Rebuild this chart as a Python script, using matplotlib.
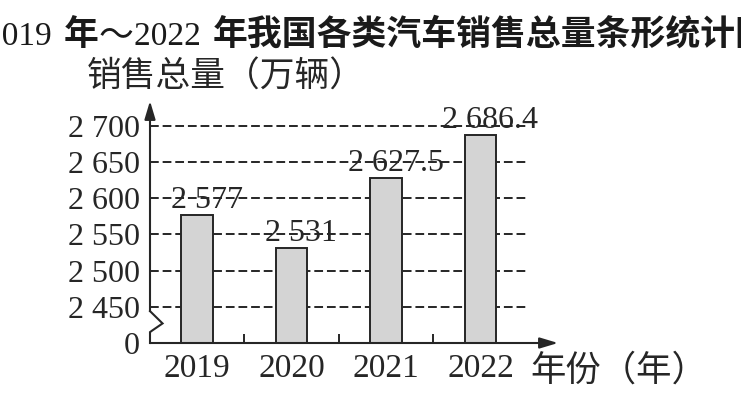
import numpy as np
import matplotlib
matplotlib.use('Agg')
import matplotlib.pyplot as plt

# ---- data ----
years = ['2019', '2020', '2021', '2022']
sales = [2577, 2531, 2627.5, 2686.4]
sales_labels = ['2 577', '2 531', '2 627.5', '2 686.4']
axis_base = 2400
yticks = [2400, 2450, 2500, 2550, 2600, 2650, 2700]
ytick_labels = ['0', '2 450', '2 500', '2 550', '2 600', '2 650', '2 700']
title_parts = ['2019 ', '年', '～', '2022 ', '年我国各类汽车销售总量条形统计图']
ylabel = '销售总量（万辆）'
xlabel = '年份（年）'

# ---- styles ----
W, H = 741, 403
INK = '#262626'
SERIF = ['Liberation Serif', 'DejaVu Serif']
CJK = ['Noto Sans CJK SC', 'DejaVu Sans']
plt.rcParams['font.family'] = CJK

fig = plt.figure(figsize=(W / 100, H / 100), dpi=100)
fig.patch.set_facecolor('white')
ax = fig.add_axes([150 / W, 1 - 343 / H, 408 / W, 242 / H])
ax.set_xlim(-0.5, 3.82)
ax.set_ylim(axis_base, 2734)
for s in ax.spines.values():
    s.set_visible(False)

x = np.arange(len(years))
vals = np.array(sales)
ax.bar(x, vals - axis_base, bottom=axis_base, width=0.333, color='#d4d4d4',
       edgecolor=INK, linewidth=1.4, zorder=3)

# dashed reference lines
ax.hlines(yticks[1:], -0.5, 3.5, colors=INK, linestyles=(0, (4.5, 2)),
          linewidth=1.4, zorder=2, clip_on=False)

# bar value labels (under the dashed lines, as in the print)
for xi, v, lab in zip(x, vals, sales_labels):
    ax.text(xi + 0.1, v, lab, ha='center', va='bottom', fontsize=23,
            family=SERIF, color=INK, zorder=1)

# axes with arrows
arrow = dict(arrowstyle='-|>,head_length=1.1,head_width=0.33', mutation_scale=10,
             shrinkA=0, shrinkB=0, lw=1.5, color=INK)
ax.annotate('', xy=(3.82, axis_base), xytext=(-0.5, axis_base),
            arrowprops=arrow, annotation_clip=False)
ax.annotate('', xy=(-0.5, 2734), xytext=(-0.5, 2444),
            arrowprops=arrow, annotation_clip=False)
# axis break zigzag
ax.plot([-0.5, -0.5, -0.479, -0.367, -0.5], [axis_base, 2415, 2417, 2427, 2444],
        color=INK, lw=1.5, clip_on=False, solid_joinstyle='miter')
# small category separators
ax.vlines([0.5, 1.5, 2.5], axis_base, 2412, colors=INK, linewidth=1.4)

ax.set_yticks(yticks, ytick_labels)
ax.set_xticks(x, years)
ax.tick_params(axis='y', length=0, pad=7.5, labelsize=23, labelcolor=INK)
ax.tick_params(axis='x', length=0, pad=7.5, labelsize=24, labelcolor=INK)
for t in ax.get_yticklabels() + ax.get_xticklabels():
    t.set_family(SERIF)

fig.text(87 / W, 1 - 77 / H, ylabel, ha='left', va='center', fontsize=25, color=INK)
fig.text(530 / W, 1 - 371 / H, xlabel, ha='left', va='center', fontsize=25.5, color=INK)

# mixed-font title, placed piece by piece along one baseline
renderer = fig.canvas.get_renderer()
xpos = -15
for part in title_parts:
    is_digit = part.strip().isdigit()
    t = fig.text(xpos / W, 1 - 45 / H, part, ha='left', va='baseline',
                 fontsize=24 if is_digit else 25.1,
                 family=SERIF if is_digit else CJK,
                 weight='normal' if (is_digit or part == '～') else 'bold',
                 color='#1a1a1a')
    bb = t.get_window_extent(renderer)
    xpos = bb.x1 + (4 if is_digit else 0)

fig.savefig('out.png', dpi=100, facecolor='white')
